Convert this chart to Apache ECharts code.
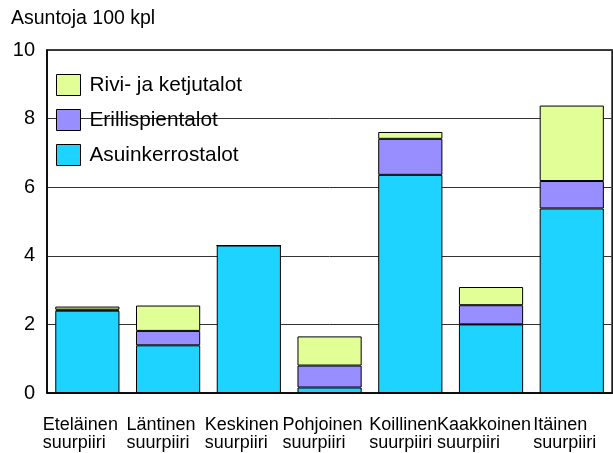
<!DOCTYPE html>
<html><head><meta charset="utf-8">
<script src="https://cdn.jsdelivr.net/npm/echarts@6/dist/echarts.min.js"></script>
<style>html,body{margin:0;padding:0;background:#fff}#c{width:613px;height:453px}</style>
</head><body><div id="c"></div>
<script>
const categories = ["Eteläinen\nsuurpiiri","Läntinen\nsuurpiiri","Keskinen\nsuurpiiri","Pohjoinen\nsuurpiiri","Koillinen\nsuurpiiri","Kaakkoinen\nsuurpiiri","Itäinen\nsuurpiiri"];
const asuinkerrostalot = [2.40, 1.39, 4.30, 0.16, 6.36, 2.00, 5.38];
const erillispientalot = [0.03, 0.42, 0, 0.64, 1.05, 0.56, 0.80];
const rivijaketjutalot = [0.09, 0.74, 0, 0.85, 0.20, 0.53, 2.20];
const yTicks = [0, 2, 4, 6, 8, 10];
const FONT = '"Liberation Sans", Arial, sans-serif';
const chart = echarts.init(document.getElementById('c'), null, {renderer:'canvas'});
const border = {borderColor:'#000', borderWidth:1};
chart.setOption({
  animation:false,
  textStyle:{fontFamily:FONT, color:'#000'},
  title:{text:'Asuntoja 100 kpl', left:11, top:9, padding:0, textStyle:{fontFamily:FONT, fontSize:19.5, fontWeight:'normal', color:'#000'}},
  legend:{orient:'vertical', left:56, top:74, padding:0, itemWidth:24, itemHeight:21, itemGap:13, icon:'rect',
    data:['Rivi- ja ketjutalot','Erillispientalot','Asuinkerrostalot'],
    textStyle:{fontFamily:FONT, fontSize:20.8, color:'#000', padding:[0,0,0,4]},
    itemStyle:{borderColor:'#000', borderWidth:1}},
  grid:{left:47, top:50, bottom:60, right:-3, show:true, borderColor:'#000', borderWidth:1.5},
  xAxis:{type:'category', data:categories,
    axisLine:{lineStyle:{color:'#000', width:1.5}},
    axisTick:{alignWithLabel:true, length:8, lineStyle:{color:'#666'}},
    axisLabel:{fontFamily:FONT, fontSize:18, color:'#000', lineHeight:18, margin:23, interval:0,
      padding:[0,14,0,0],
      formatter: v => v.split('\n').map(s => '{l|' + s + '}').join('\n'),
      rich:{l:{fontFamily:FONT, fontSize:18, lineHeight:18, color:'#000', align:'left'}}}},
  yAxis:{type:'value', min:yTicks[0], max:yTicks[yTicks.length-1], interval:2,
    axisLine:{show:true, lineStyle:{color:'#000', width:1.5}},
    axisTick:{show:false},
    axisLabel:{fontFamily:FONT, fontSize:20, color:'#000', margin:12},
    splitLine:{lineStyle:{color:'#333', width:1}}},
  series:[
    {name:'Asuinkerrostalot', type:'bar', stack:'s', data:asuinkerrostalot, barWidth:'79.5%', itemStyle:{color:'#1ED3FF', ...border}},
    {name:'Erillispientalot', type:'bar', stack:'s', data:erillispientalot, itemStyle:{color:'#998EFF', ...border}},
    {name:'Rivi- ja ketjutalot', type:'bar', stack:'s', data:rivijaketjutalot, itemStyle:{color:'#E1FF96', ...border}}
  ]
});
</script></body></html>
